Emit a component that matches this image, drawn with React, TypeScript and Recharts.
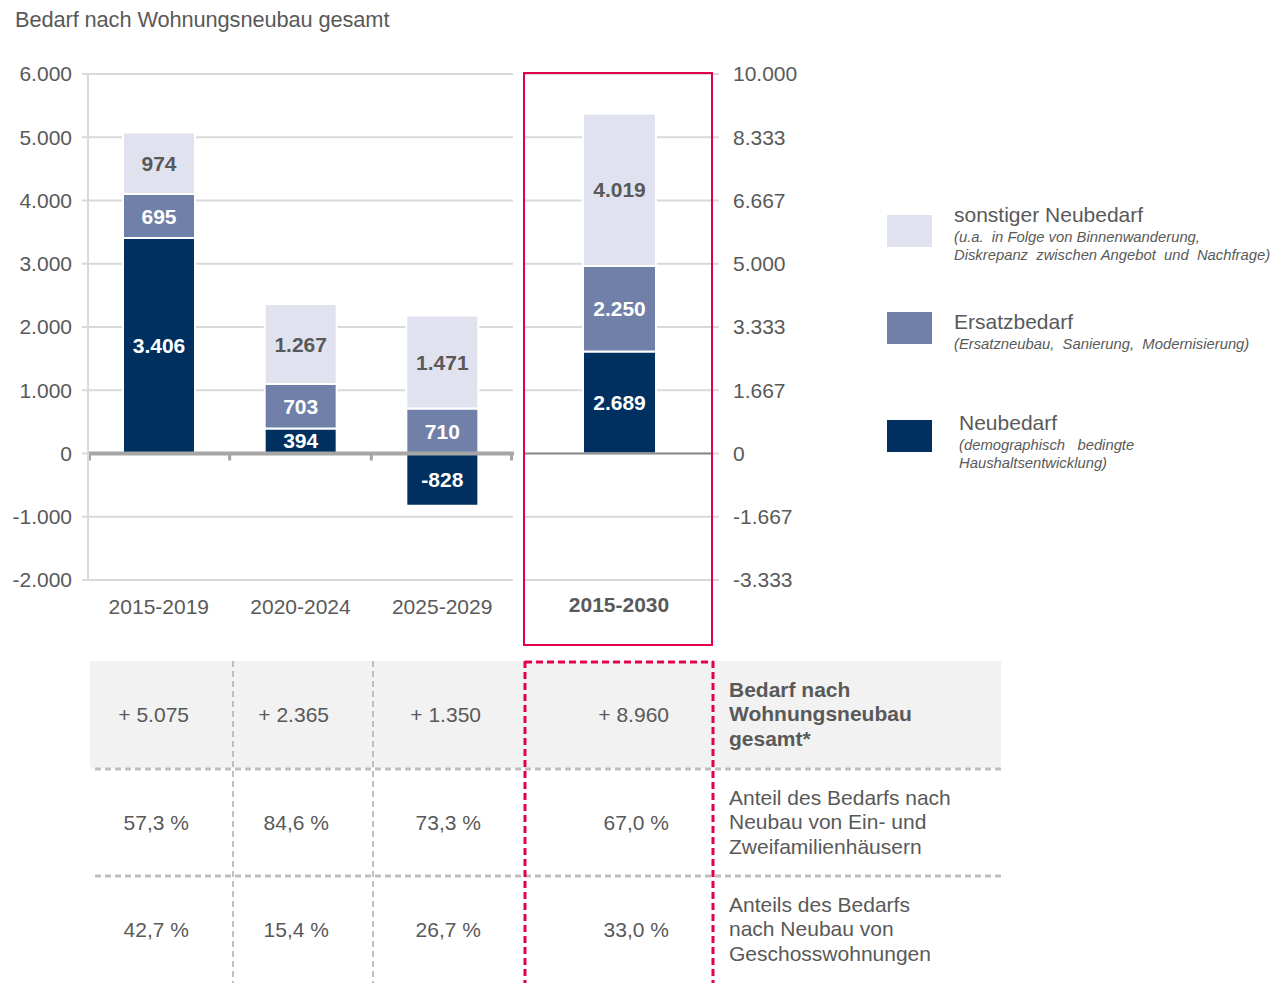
import React from 'react'
import {
  BarChart, Bar, XAxis, YAxis, CartesianGrid, ReferenceLine, LabelList,
} from 'recharts'

// Zeiträume und Werte (Tsd. Wohnungen), links und Gesamtzeitraum rechts
const periods = ['2015-2019', '2020-2024', '2025-2029']
const neubedarf = [3406, 394, -828]
const ersatzbedarf = [695, 703, 710]
const sonstiger = [974, 1267, 1471]

const totalPeriod = ['2015-2030']
const totalNeubedarf = [2689]
const totalErsatzbedarf = [2250]
const totalSonstiger = [4019]

const leftTicks = [-2000, -1000, 0, 1000, 2000, 3000, 4000, 5000, 6000]
const rightTicks = [-3333.33, -1666.67, 0, 1666.67, 3333.33, 5000, 6666.67, 8333.33, 10000]

// Tabelle unter dem Diagramm
const tableTotals = ['+ 5.075', '+ 2.365', '+ 1.350', '+ 8.960']
const tableEfh = ['57,3 %', '84,6 %', '73,3 %', '67,0 %']
const tableMfh = ['42,7 %', '15,4 %', '26,7 %', '33,0 %']
const rowLabels = [
  ['Bedarf nach', 'Wohnungsneubau', 'gesamt*'],
  ['Anteil des Bedarfs nach', 'Neubau von Ein- und', 'Zweifamilienhäusern'],
  ['Anteils des Bedarfs', 'nach Neubau von', 'Geschosswohnungen'],
]

const legendItems = [
  { name: 'sonstiger Neubedarf', note: ['(u.a.  in Folge von Binnenwanderung,', 'Diskrepanz  zwischen Angebot  und  Nachfrage)'] },
  { name: 'Ersatzbedarf', note: ['(Ersatzneubau,  Sanierung,  Modernisierung)'] },
  { name: 'Neubedarf', note: ['(demographisch   bedingte', 'Haushaltsentwicklung)'] },
]

const NAVY = '#00305f'
const MID = '#7080a9'
const LIGHT = '#e0e3ef'
const TEXT = '#595959'
const GRID = '#d9d9d9'
const RED = '#e3004f'
const FONT = '"Liberation Sans", Arial, sans-serif'

const leftData = periods.map((p, i) => ({
  period: p, neu: neubedarf[i], ersatz: ersatzbedarf[i], sonst: sonstiger[i],
}))
const rightData = totalPeriod.map((p, i) => ({
  period: p, neu: totalNeubedarf[i], ersatz: totalErsatzbedarf[i], sonst: totalSonstiger[i],
}))

// German thousands separator
const de = (v: number) => {
  const s = Math.round(Math.abs(v)).toString().replace(/\B(?=(\d{3})+(?!\d))/g, '.')
  return (v < 0 ? '-' : '') + s
}

// thick zero line with tick marks between the categories
function ZeroAxis(props: any) {
  const { x1, x2, y1 } = props
  const step = (x2 - x1) / periods.length
  const marks = [0, 1, 2, 3].map((i) => Math.min(Math.max(x1 + i * step, x1 + 1.5), x2 - 1.5))
  return (
    <g>
      <line x1={x1} x2={x2 + 1} y1={y1} y2={y1} stroke="#a6a6a6" strokeWidth={4} />
      {marks.map((x) => (
        <line key={x} x1={x} x2={x} y1={y1} y2={y1 + 7} stroke="#a6a6a6" strokeWidth={3} />
      ))}
    </g>
  )
}

const labelStyle = { fontSize: 21, fontWeight: 'bold' as const, fontFamily: FONT }

export default function App() {
  const axisTick = { fill: TEXT, fontSize: 21, fontFamily: FONT }
  const colEdges = [90, 233, 373, 525, 713]
  const rowTops = [661, 769, 876]
  const rowH = 107

  return (
    <div style={{ position: 'absolute', left: 0, top: 0, width: 1280, height: 983, background: '#fff', fontFamily: FONT, color: TEXT, overflow: 'hidden' }}>
      <div style={{ position: 'absolute', left: 15, top: 8, fontSize: 21.8, letterSpacing: -0.1, whiteSpace: 'nowrap', lineHeight: '24px' }}>
        Bedarf nach Wohnungsneubau gesamt
      </div>

      {/* Zeiträume 2015-2029, linke Achse */}
      <div style={{ position: 'absolute', left: 0, top: 0 }}>
        <BarChart width={520} height={650} data={leftData} stackOffset="sign" barSize={72}
          margin={{ top: 74, right: 7, bottom: 0, left: 0 }}>
          <CartesianGrid vertical={false} stroke={GRID} strokeWidth={2} />
          <XAxis dataKey="period" axisLine={false} tickLine={false} tickSize={0} tickMargin={19}
            height={70} tick={axisTick} interval={0} />
          <YAxis domain={[-2000, 6000]} ticks={leftTicks} width={88} tick={axisTick}
            tickFormatter={de} tickSize={6} tickMargin={10}
            axisLine={{ stroke: GRID, strokeWidth: 2 }} tickLine={{ stroke: GRID, strokeWidth: 2 }}
            interval={0} allowDataOverflow />
          <Bar dataKey="neu" stackId="a" fill={NAVY} stroke="#fff" strokeWidth={2} isAnimationActive={false}>
            <LabelList dataKey="neu" position="center" fill="#fff" formatter={de} style={labelStyle} />
          </Bar>
          <Bar dataKey="ersatz" stackId="a" fill={MID} stroke="#fff" strokeWidth={2} isAnimationActive={false}>
            <LabelList dataKey="ersatz" position="center" fill="#fff" formatter={de} style={labelStyle} />
          </Bar>
          <Bar dataKey="sonst" stackId="a" fill={LIGHT} stroke="#fff" strokeWidth={2} isAnimationActive={false}>
            <LabelList dataKey="sonst" position="center" fill={TEXT} formatter={de} style={labelStyle} />
          </Bar>
          <ReferenceLine y={0} shape={ZeroAxis} />
        </BarChart>
      </div>

      {/* Gesamtzeitraum 2015-2030, rechte Achse */}
      <div style={{ position: 'absolute', left: 520, top: 0 }}>
        <BarChart width={300} height={650} data={rightData} barSize={73}
          margin={{ top: 74, right: 20, bottom: 0, left: 5 }}>
          <CartesianGrid vertical={false} stroke={GRID} strokeWidth={2} />
          <XAxis dataKey="period" axisLine={false} tickLine={false} tickSize={0} tickMargin={17}
            height={70} tick={{ ...axisTick, fontWeight: 'bold' }} />
          <YAxis orientation="right" domain={[-3333.33, 10000]} ticks={rightTicks} width={87}
            tick={{ ...axisTick, textAnchor: 'start' }} tickFormatter={de} tickSize={6} tickMargin={14}
            axisLine={false} tickLine={{ stroke: GRID, strokeWidth: 2 }} interval={0} allowDataOverflow />
          <Bar dataKey="neu" stackId="b" fill={NAVY} stroke="#fff" strokeWidth={2} isAnimationActive={false}>
            <LabelList dataKey="neu" position="center" fill="#fff" formatter={de} style={labelStyle} />
          </Bar>
          <Bar dataKey="ersatz" stackId="b" fill={MID} stroke="#fff" strokeWidth={2} isAnimationActive={false}>
            <LabelList dataKey="ersatz" position="center" fill="#fff" formatter={de} style={labelStyle} />
          </Bar>
          <Bar dataKey="sonst" stackId="b" fill={LIGHT} stroke="#fff" strokeWidth={2} isAnimationActive={false}>
            <LabelList dataKey="sonst" position="center" fill={TEXT} formatter={de} style={labelStyle} />
          </Bar>
          <ReferenceLine y={0} stroke="#8c8c8c" strokeWidth={2} />
        </BarChart>
      </div>

      {/* roter Rahmen um den Gesamtzeitraum */}
      <div style={{ position: 'absolute', left: 523, top: 72, width: 186, height: 570, border: `2px solid ${RED}` }} />

      {/* Legende */}
      {legendItems.map((item, i) => {
        const colors = [LIGHT, MID, NAVY]
        const squareTop = [215, 312, 420][i]
        const titleTop = [203, 310, 411][i]
        const textLeft = [954, 954, 959][i]
        return (
          <React.Fragment key={item.name}>
            <div style={{ position: 'absolute', left: 887, top: squareTop, width: 45, height: 32, background: colors[i] }} />
            <div style={{ position: 'absolute', left: textLeft, top: titleTop, fontSize: 21, lineHeight: '24px', whiteSpace: 'nowrap' }}>
              {item.name}
            </div>
            <div style={{ position: 'absolute', left: textLeft, top: titleTop + 26, fontSize: 14.8, fontStyle: 'italic', lineHeight: '17.5px', whiteSpace: 'pre' }}>
              {item.note.join('\n')}
            </div>
          </React.Fragment>
        )
      })}

      {/* Tabelle */}
      <svg width={1280} height={983} style={{ position: 'absolute', left: 0, top: 0 }}>
        <rect x={90} y={661} width={911} height={107} fill="#f2f2f2" />
        {[769, 876].map((y) => (
          <line key={y} x1={95} x2={1001} y1={y} y2={y} stroke="#bfbfbf" strokeWidth={3} strokeDasharray="6 4" />
        ))}
        {[233, 373].map((x) => (
          <line key={x} x1={x} x2={x} y1={661} y2={983} stroke="#bfbfbf" strokeWidth={2} strokeDasharray="6 4" />
        ))}
        <line x1={525} x2={713} y1={662} y2={662} stroke={RED} strokeWidth={3} strokeDasharray="7 4" />
        {[525, 713].map((x) => (
          <line key={x} x1={x} x2={x} y1={661} y2={983} stroke={RED} strokeWidth={3} strokeDasharray="7 4" />
        ))}
      </svg>
      {[tableTotals, tableEfh, tableMfh].map((row, r) => (
        <React.Fragment key={r}>
          {row.map((v, c) => (
            <div key={c} style={{
              position: 'absolute', left: colEdges[c], width: colEdges[c + 1] - colEdges[c] - 44,
              top: rowTops[r], height: rowH, display: 'flex', alignItems: 'center', justifyContent: 'flex-end',
              fontSize: 21, whiteSpace: 'nowrap',
            }}>{v}</div>
          ))}
          <div style={{
            position: 'absolute', left: 729, width: 272, top: rowTops[r], height: rowH,
            display: 'flex', alignItems: 'center', fontSize: 21, lineHeight: '24.5px',
            fontWeight: r === 0 ? 'bold' : 'normal',
          }}>
            <div>{rowLabels[r].map((l) => <div key={l} style={{ whiteSpace: 'nowrap' }}>{l}</div>)}</div>
          </div>
        </React.Fragment>
      ))}
    </div>
  )
}
